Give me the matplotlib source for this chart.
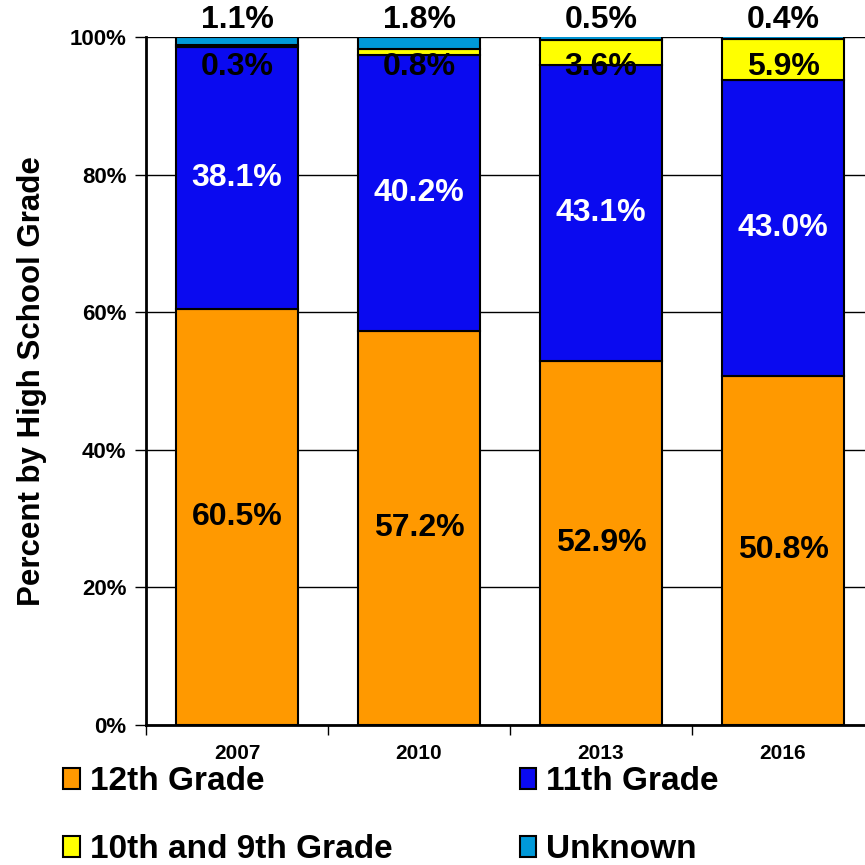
import numpy as np
import matplotlib
matplotlib.use('Agg')
import matplotlib.pyplot as plt
from matplotlib.patches import Patch

plt.rcParams['font.family'] = ['Liberation Sans', 'DejaVu Sans']
plt.rcParams['font.weight'] = 'bold'
plt.rcParams['axes.labelweight'] = 'bold'

# Data
years = ['2007', '2010', '2013', '2016']
grade_12 = [60.5, 57.2, 52.9, 50.8]
grade_11 = [38.1, 40.2, 43.1, 43.0]
grade_10_9 = [0.3, 0.8, 3.6, 5.9]
unknown = [1.1, 1.8, 0.5, 0.4]

series_names = ['12th Grade', '11th Grade', '10th and 9th Grade', 'Unknown']
series_colors = ['#FF9900', '#0A0AF0', '#FFFF00', '#0099D9']

fig = plt.figure(figsize=(8.65, 8.65), dpi=100)
ax = fig.add_axes([0.1688, 0.1618, 0.8416, 0.7954])

x = np.arange(len(years))
width = 0.67
bottom = np.zeros(len(years))
all_series = [grade_12, grade_11, grade_10_9, unknown]
for vals, color in zip(all_series, series_colors):
    ax.bar(x, vals, width, bottom=bottom, color=color, edgecolor='black',
           linewidth=1.5, zorder=3)
    bottom += np.array(vals)

# labels
lab_size = 23
for i in range(len(years)):
    ax.text(x[i], grade_12[i] / 2, f'{grade_12[i]:.1f}%', ha='center', va='center',
            fontsize=lab_size, color='black', zorder=5)
    ax.text(x[i], grade_12[i] + grade_11[i] / 2, f'{grade_11[i]:.1f}%', ha='center',
            va='center', fontsize=lab_size, color='white', zorder=5)
    ax.text(x[i], 95.6, f'{grade_10_9[i]:.1f}%', ha='center', va='center',
            fontsize=lab_size, color='black', zorder=5)
    ax.text(x[i], 102.5, f'{unknown[i]:.1f}%', ha='center', va='center',
            fontsize=lab_size, color='black', zorder=5, clip_on=False)

ax.set_xlim(-0.5, 3.5)
ax.set_ylim(0, 100)
ax.set_yticks(np.arange(0, 101, 20))
ax.set_yticklabels([f'{v}%' for v in range(0, 101, 20)], fontsize=16)
ax.yaxis.grid(True, color='black', linewidth=1, zorder=0)
ax.set_axisbelow(True)

ax.set_xticks(x)
ax.set_xticklabels(years, fontsize=15)
ax.set_xticks(np.arange(-0.5, 3.6, 1), minor=True)
ax.tick_params(axis='x', which='major', length=0, pad=14)
ax.tick_params(axis='x', which='minor', length=7, width=1, direction='out')
ax.tick_params(axis='y', length=8, width=1, direction='out', pad=6)

for s in ['top', 'right']:
    ax.spines[s].set_visible(False)
ax.spines['left'].set_linewidth(2)
ax.spines['bottom'].set_linewidth(2)

ax.set_ylabel('Percent by High School Grade', fontsize=22.5, labelpad=16)

# legend filled row by row: reorder for column-major layout
order = [0, 2, 1, 3]
handles = [Patch(facecolor=series_colors[k], edgecolor='black', linewidth=1.5) for k in order]
labels = [series_names[k] for k in order]
fig.legend(handles, labels, ncol=2, loc='upper left',
           bbox_to_anchor=(0.073, 0.114), frameon=False, fontsize=24,
           handlelength=0.5, handleheight=0.6, handletextpad=0.3,
           columnspacing=3.82, labelspacing=1.1, borderaxespad=0, borderpad=0)

fig.savefig('out.png', dpi=100)
